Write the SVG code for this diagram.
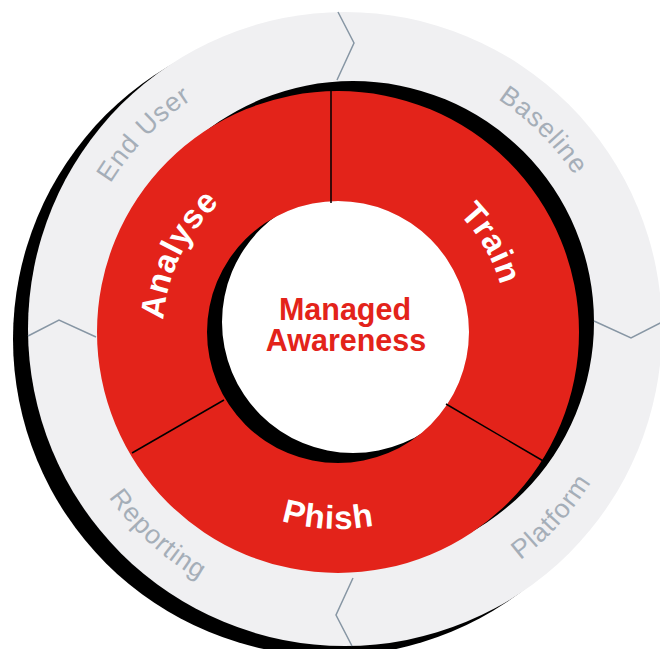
<svg xmlns="http://www.w3.org/2000/svg" width="660" height="649" viewBox="0 0 660 649">
<style>
.grey{font-family:"Liberation Sans",Arial,sans-serif;font-size:26.5px;fill:#a5aeb8;letter-spacing:1px}
.white{font-family:"Liberation Sans",Arial,sans-serif;font-size:33px;font-weight:bold;fill:#ffffff;letter-spacing:1px}
.center{font-family:"Liberation Sans",Arial,sans-serif;font-size:30.5px;font-weight:bold;fill:#e3231a}
.chev{fill:none;stroke:#8796a4;stroke-width:1.5;stroke-linejoin:miter}
.div{stroke:#000;stroke-width:1.5}
</style>
<defs>
<path id="pEnd" d="M 69 329 A 276 276 0 0 1 345 53"/>
<path id="pBase" d="M 345 53 A 276 276 0 0 1 621 329"/>
<path id="pPlat" d="M 345 619 A 290 290 0 0 0 635 329"/>
<path id="pRep" d="M 55 329 A 290 290 0 0 0 345 619"/>
<path id="pAna" d="M 186.45 419.5 A 175 175 0 0 1 338 157"/>
<path id="pTrain" d="M 338 163 A 169 169 0 0 1 484.4 416.5"/>
<path id="pPhish" d="M 167.4 430.5 A 197 197 0 0 0 508.6 430.5"/>
<path id="chevTop" class="chev" d="M 338 12 L 354 43 L 337 80"/>
</defs>
<rect width="660" height="649" fill="#ffffff"/>
<g id="outer-ring">
<circle cx="330" cy="339" r="317" fill="#000"/>
<circle cx="345" cy="329" r="317" fill="#f0f0f2"/>
</g>
<g id="inner-ring">
<circle cx="338" cy="332" r="131" fill="#ffffff"/>
<path fill="#000" fill-rule="evenodd" d="M 112 322 A 241 241 0 1 0 594 322 A 241 241 0 1 0 112 322 Z M 222 322 A 131 131 0 1 0 484 322 A 131 131 0 1 0 222 322 Z"/>
<path fill="#e3231a" fill-rule="evenodd" d="M 97 332 A 241 241 0 1 0 579 332 A 241 241 0 1 0 97 332 Z M 207 332 A 131 131 0 1 0 469 332 A 131 131 0 1 0 207 332 Z"/>
</g>
<g id="connectors">
<use href="#chevTop"/>
<use href="#chevTop" transform="rotate(90 345 329)"/>
<use href="#chevTop" transform="rotate(180 345 329)"/>
<use href="#chevTop" transform="rotate(270 345 329)"/>
<line class="div" x1="331" y1="90" x2="331" y2="203"/>
<line class="div" x1="132" y1="453" x2="224" y2="400"/>
<line class="div" x1="446" y1="404" x2="545" y2="462"/>
</g>
<g id="end-user"><text class="grey"><textPath href="#pEnd" startOffset="49%" text-anchor="middle">End User</textPath></text></g>
<g id="baseline"><text class="grey"><textPath href="#pBase" startOffset="50%" text-anchor="middle">Baseline</textPath></text></g>
<g id="platform"><text class="grey"><textPath href="#pPlat" startOffset="53%" text-anchor="middle">Platform</textPath></text></g>
<g id="reporting"><text class="grey"><textPath href="#pRep" startOffset="53%" text-anchor="middle">Reporting</textPath></text></g>
<g id="analyse"><text class="white"><textPath href="#pAna" startOffset="46.5%" text-anchor="middle">Analyse</textPath></text></g>
<g id="train"><text class="white"><textPath href="#pTrain" startOffset="50%" text-anchor="middle">Train</textPath></text></g>
<g id="phish"><text class="white"><textPath href="#pPhish" startOffset="47.5%" text-anchor="middle">Phish</textPath></text></g>
<g id="managed-awareness">
<text class="center" x="345" y="320" text-anchor="middle">Managed</text>
<text class="center" x="346" y="351" text-anchor="middle">Awareness</text>
</g>
</svg>
